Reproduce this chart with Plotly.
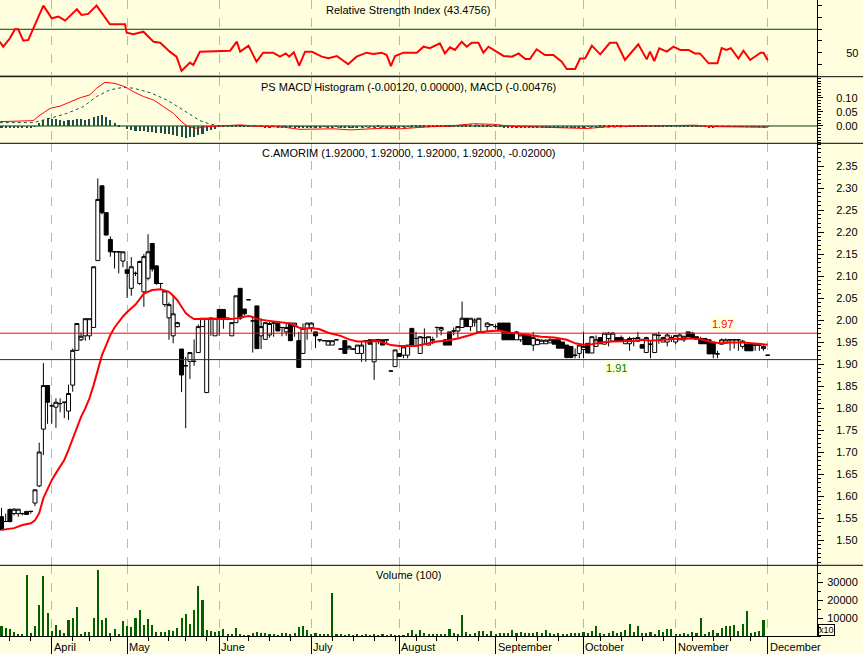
import plotly.graph_objects as go
from plotly.subplots import make_subplots

FONT = "Liberation Sans, Arial, sans-serif"
BG = "#FFFFE0"

# ---------------- data (trading-day index 0..183) ----------------
month_names = ["April", "May", "June", "July", "August", "September", "October", "November", "December"]
month_idx = [12, 30, 52, 74, 95, 118, 139, 161, 183]
week_idx = [2, 7, 17, 21, 26, 35, 40, 44, 49, 54, 59, 64, 69, 79, 84, 89, 94, 99, 104, 109,
            114, 123, 128, 133, 143, 148, 153, 158, 165, 170, 174, 179]

open_ = [
    1.553, 1.542, 1.569, 1.560, 1.560, 1.560, 1.565, 1.565, 1.584, 1.623,
    1.752, 1.851, 1.805, 1.802, 1.810, 1.813, 1.793, 1.852, 1.931, 1.955,
    1.964, 1.964, 1.983, 2.135, 2.305, 2.244, 2.183, 2.155, 2.155, 2.134,
    2.114, 2.072, 2.106, 2.083, 2.064, 2.095, 2.174, 2.123, 2.083, 2.035,
    2.005, 1.964, 1.985, 1.934, 1.896, 1.906, 1.906, 1.926, 1.985, 1.835,
    2.004, 1.964, 2.024, 2.024, 2.004, 1.964, 1.994, 2.072, 2.025, 2.046,
    1.998, 2.032, 1.964, 1.956, 1.966, 1.993, 1.993, 1.983, 1.973, 1.993,
    1.985, 1.953, 1.924, 1.981, 1.983, 1.973, 1.955, 1.953, 1.943, 1.943,
    1.955, 1.934, 1.953, 1.934, 1.934, 1.924, 1.924, 1.953, 1.955, 1.905,
    1.955, 1.955, 1.955, 1.884, 1.894, 1.924, 1.920, 1.920, 1.981, 1.958,
    1.924, 1.960, 1.943, 1.955, 1.983, 1.977, 1.955, 1.973, 1.975, 1.975,
    1.983, 2.004, 1.985, 1.995, 1.973, 1.973, 1.985, 1.989, 1.985, 1.993,
    1.993, 1.993, 1.970, 1.955, 1.955, 1.966, 1.964, 1.943, 1.944, 1.946,
    1.946, 1.948, 1.955, 1.955, 1.950, 1.943, 1.940, 1.920, 1.924, 1.933,
    1.947, 1.925, 1.940, 1.960, 1.945, 1.958, 1.952, 1.960, 1.960, 1.946,
    1.946, 1.958, 1.952, 1.944, 1.926, 1.945, 1.926, 1.965, 1.950, 1.950,
    1.960, 1.950, 1.955, 1.955, 1.973, 1.970, 1.962, 1.958, 1.958, 1.955,
    1.950, 1.923, 1.945, 1.948, 1.955, 1.955, 1.955, 1.940, 1.945, 1.945,
    1.943, 1.943, 1.935, 1.920]

high = [
    1.573, 1.560, 1.572, 1.572, 1.570, 1.562, 1.565, 1.565, 1.615, 1.721,
    1.902, 1.851, 1.810, 1.822, 1.822, 1.813, 1.853, 1.935, 1.992, 1.972,
    2.003, 2.003, 2.121, 2.322, 2.305, 2.244, 2.190, 2.155, 2.155, 2.155,
    2.134, 2.143, 2.110, 2.135, 2.150, 2.195, 2.174, 2.125, 2.083, 2.066,
    2.040, 2.055, 1.996, 1.934, 1.916, 1.926, 1.956, 1.990, 2.004, 2.004,
    2.004, 2.004, 2.024, 2.024, 2.004, 1.994, 2.055, 2.072, 2.025, 2.046,
    2.005, 2.032, 2.004, 1.996, 1.996, 1.996, 1.993, 1.983, 1.993, 1.993,
    1.993, 1.973, 1.992, 1.993, 1.995, 1.973, 1.955, 1.953, 1.953, 1.953,
    1.955, 1.934, 1.955, 1.943, 1.934, 1.943, 1.953, 1.953, 1.955, 1.955,
    1.955, 1.955, 1.955, 1.884, 1.932, 1.924, 1.943, 1.943, 1.981, 1.973,
    1.962, 1.981, 1.962, 1.962, 1.985, 1.985, 1.955, 1.973, 1.983, 1.985,
    2.042, 2.004, 2.004, 2.004, 2.004, 1.973, 1.995, 1.989, 1.990, 1.993,
    1.993, 1.993, 1.973, 1.975, 1.966, 1.966, 1.964, 1.973, 1.958, 1.956,
    1.956, 1.960, 1.955, 1.955, 1.950, 1.943, 1.940, 1.935, 1.943, 1.973,
    1.947, 1.962, 1.965, 1.960, 1.970, 1.973, 1.973, 1.960, 1.965, 1.955,
    1.962, 1.960, 1.973, 1.944, 1.962, 1.952, 1.968, 1.973, 1.962, 1.970,
    1.965, 1.966, 1.970, 1.965, 1.973, 1.973, 1.962, 1.962, 1.958, 1.955,
    1.950, 1.930, 1.958, 1.958, 1.955, 1.955, 1.955, 1.955, 1.945, 1.945,
    1.943, 1.943, 1.943, 1.920]

low = [
    1.523, 1.542, 1.540, 1.556, 1.553, 1.556, 1.558, 1.560, 1.577, 1.620,
    1.693, 1.764, 1.764, 1.755, 1.790, 1.777, 1.773, 1.837, 1.930, 1.952,
    1.953, 1.955, 1.983, 2.135, 2.240, 2.193, 2.144, 2.117, 2.106, 2.120,
    2.050, 2.055, 2.100, 2.080, 2.030, 2.090, 2.110, 2.080, 2.070, 2.030,
    1.955, 1.947, 1.983, 1.836, 1.754, 1.866, 1.896, 1.926, 1.985, 1.835,
    1.964, 1.964, 1.964, 1.980, 2.004, 1.964, 1.994, 2.000, 2.010, 2.046,
    1.926, 1.935, 1.934, 1.956, 1.960, 1.962, 1.975, 1.963, 1.964, 1.953,
    1.962, 1.892, 1.924, 1.955, 1.973, 1.936, 1.950, 1.953, 1.943, 1.943,
    1.955, 1.934, 1.924, 1.934, 1.934, 1.924, 1.905, 1.905, 1.945, 1.864,
    1.945, 1.943, 1.945, 1.884, 1.894, 1.917, 1.913, 1.913, 1.943, 1.943,
    1.924, 1.943, 1.943, 1.945, 1.960, 1.965, 1.943, 1.943, 1.965, 1.960,
    1.983, 1.985, 1.975, 1.985, 1.973, 1.973, 1.975, 1.989, 1.980, 1.977,
    1.955, 1.955, 1.955, 1.955, 1.950, 1.944, 1.944, 1.930, 1.944, 1.946,
    1.946, 1.948, 1.945, 1.936, 1.936, 1.913, 1.913, 1.913, 1.913, 1.913,
    1.925, 1.925, 1.940, 1.946, 1.945, 1.940, 1.950, 1.952, 1.952, 1.946,
    1.930, 1.940, 1.950, 1.936, 1.926, 1.913, 1.926, 1.946, 1.950, 1.940,
    1.950, 1.945, 1.955, 1.950, 1.962, 1.960, 1.956, 1.946, 1.946, 1.923,
    1.913, 1.913, 1.945, 1.948, 1.930, 1.935, 1.930, 1.935, 1.930, 1.930,
    1.930, 1.930, 1.930, 1.920]

close = [
    1.523, 1.542, 1.542, 1.570, 1.570, 1.560, 1.558, 1.565, 1.614, 1.700,
    1.851, 1.813, 1.805, 1.813, 1.810, 1.813, 1.833, 1.931, 1.992, 1.963,
    2.003, 2.003, 2.121, 2.274, 2.244, 2.193, 2.155, 2.155, 2.155, 2.155,
    2.106, 2.121, 2.106, 2.133, 2.144, 2.155, 2.116, 2.083, 2.083, 2.066,
    2.035, 2.014, 1.994, 1.875, 1.896, 1.926, 1.906, 1.985, 2.004, 2.004,
    2.004, 2.004, 2.004, 2.004, 2.004, 1.994, 2.055, 2.004, 2.014, 2.046,
    1.998, 1.935, 1.985, 1.994, 1.992, 1.993, 1.975, 1.983, 1.983, 1.953,
    1.993, 1.892, 1.981, 1.993, 1.993, 1.964, 1.955, 1.953, 1.953, 1.953,
    1.955, 1.934, 1.924, 1.940, 1.934, 1.943, 1.943, 1.953, 1.945, 1.955,
    1.955, 1.943, 1.955, 1.884, 1.932, 1.917, 1.939, 1.943, 1.943, 1.958,
    1.962, 1.960, 1.962, 1.955, 1.983, 1.983, 1.943, 1.943, 1.975, 1.985,
    2.004, 1.985, 2.004, 2.000, 2.004, 1.973, 1.993, 1.989, 1.985, 1.977,
    1.955, 1.955, 1.955, 1.973, 1.966, 1.944, 1.944, 1.960, 1.956, 1.954,
    1.954, 1.955, 1.945, 1.936, 1.936, 1.915, 1.915, 1.920, 1.943, 1.940,
    1.925, 1.962, 1.955, 1.946, 1.970, 1.970, 1.970, 1.952, 1.952, 1.955,
    1.958, 1.958, 1.960, 1.936, 1.960, 1.945, 1.968, 1.965, 1.960, 1.966,
    1.960, 1.965, 1.966, 1.962, 1.962, 1.960, 1.956, 1.946, 1.946, 1.923,
    1.923, 1.923, 1.955, 1.955, 1.955, 1.955, 1.955, 1.952, 1.930, 1.930,
    1.943, 1.943, 1.940, 1.920]

volume = [
    5200, 4300, 3600, 1800, 800, 800, 34000, 1300, 5400, 16900,
    32900, 12400, 2500, 6200, 3000, 1300, 8700, 10000, 16200, 1100,
    1900, 2300, 10000, 36400, 8700, 9600, 1300, 3600, 600, 8000,
    5200, 4600, 10000, 14500, 6200, 9200, 6000, 2300, 1900, 2100,
    3000, 2500, 4300, 10000, 11800, 6700, 14500, 27500, 20100, 3400,
    2500, 2100, 2500, 3600, 600, 600, 4300, 600, 200, 200,
    1300, 1900, 1700, 1300, 1100, 600, 200, 1300, 1300, 900,
    1300, 4600, 5300, 3000, 600, 1700, 600, 600, 600, 23600,
    500, 400, 300, 400, 300, 400, 300, 400, 300, 400,
    300, 400, 300, 400, 300, 300, 200, 1300, 3000, 600,
    3000, 1300, 600, 400, 800, 400, 800, 3600, 1300, 600,
    11300, 2100, 900, 1300, 2500, 2500, 900, 2500, 600, 1300,
    1300, 1700, 3000, 1300, 1900, 1300, 1300, 1700, 1900, 1300,
    3000, 1300, 900, 1300, 600, 900, 1300, 1300, 1700, 2100,
    1300, 2500, 5300, 1300, 900, 1700, 2500, 1300, 2100, 3200,
    6700, 1900, 5200, 1300, 1300, 1900, 900, 3000, 2300, 3600,
    3600, 600, 600, 1300, 600, 1900, 1300, 10000, 600, 1900,
    3000, 1300, 4300, 5500, 5500, 5900, 2800, 6700, 13600, 1700,
    2100, 2500, 9000, 0]

ma_x = [0, 3, 5, 7, 8, 9, 10, 11, 12, 13, 14, 15, 16, 17, 18, 19, 20, 21, 22, 23, 24, 25, 26, 27, 28, 29,
        30, 32, 34, 36, 38, 40, 41, 42, 43, 44, 45, 46, 55, 57, 59, 60, 61, 64, 66, 69, 71, 72, 74, 76,
        78, 81, 83, 85, 88, 90, 92, 93, 95, 99, 102, 104, 106, 109, 112, 114, 117, 119, 121, 123, 126,
        129, 132, 135, 137, 139, 141, 143, 146, 148, 151, 153, 155, 158, 160, 163, 165, 167, 170, 172,
        174, 177, 179, 181, 183]
ma_v = [1.523, 1.527, 1.534, 1.538, 1.545, 1.561, 1.595, 1.617, 1.636, 1.652, 1.667, 1.682, 1.705, 1.731,
        1.754, 1.780, 1.799, 1.822, 1.852, 1.886, 1.920, 1.943, 1.966, 1.983, 1.996, 2.008,
        2.018, 2.035, 2.060, 2.068, 2.070, 2.064, 2.055, 2.045, 2.030, 2.016, 2.008, 2.002, 2.002, 2.005,
        2.009, 2.007, 2.002, 1.998, 1.996, 1.992, 1.983, 1.980, 1.982, 1.979,
        1.971, 1.964, 1.956, 1.951, 1.951, 1.952, 1.946, 1.943, 1.941, 1.941, 1.947, 1.951, 1.953, 1.958,
        1.966, 1.972, 1.975, 1.976, 1.971, 1.970, 1.966,
        1.962, 1.960, 1.955, 1.947, 1.944, 1.945, 1.949, 1.951, 1.952, 1.952, 1.955, 1.953, 1.955, 1.957,
        1.958, 1.958, 1.956, 1.949, 1.947,
        1.949, 1.949, 1.947, 1.945, 1.944]

# RSI curve
rsi_x = [-0.4, 0.4, 2, 3.2, 4, 5.2, 6.4, 7.6, 10, 12, 13.6, 15.2, 16.8, 18, 19.1, 20.7, 22.7, 24.3, 25.9,
         29.5, 29.9, 31.5, 33.9, 36.3, 37.9, 40.2, 41.8, 43, 45, 45.8, 47.4, 54.6, 56.2, 57, 59, 60.9,
         62.5, 64.9, 66.5, 67.9, 68.7, 69.8, 71.1, 72.5, 74.1, 76.5, 78.1, 80.1, 82.8, 84.8, 87.2, 88.8,
         90.8, 92, 93, 94, 96, 99.2, 100.8, 102.3, 104.7, 105.9, 107.1, 108.3, 109.9, 111.1, 112.3,
         113.9, 115.1, 116.3, 117.9, 119.9, 121.9, 123.5, 125.1, 126.2, 127.8, 129.8, 131.8, 133.8, 135,
         137, 138.2, 139.4, 141, 143, 145.3, 146.9, 148.9, 150.5, 152.1, 154.1, 154.9, 155.9, 157.1,
         158.9, 160.5, 162.1, 164.1, 165.6, 166.8, 168.9, 171, 172, 173.1, 174.2, 176, 177.2, 178.8,
         181.3, 182, 183]
rsi_v = [59.4, 55.1, 62.3, 70, 70, 60.3, 60.9, 70.8, 90.2, 79.4, 80.8, 77.4, 83.1, 87.1, 82.2, 83.1, 90.2,
         82.2, 74.3, 74.3, 67.1, 65.7, 67.9, 59.4, 58.5, 50.9, 46.6, 34.4, 41.5, 39.5, 50.9, 51.7, 59.4,
         50.9, 56, 42.3, 50, 50, 46.6, 49.4, 46.6, 50.4, 38.9, 50.9, 50.9, 46.6, 45.2, 47.2, 40.1, 46.6,
         50, 48.9, 50, 48, 38.6, 47.2, 50, 50, 55.1, 53.8, 58, 49.4, 54.6, 52.4, 59.4, 55.1, 58.5, 58.5,
         50, 55.1, 51.7, 47.2, 46.6, 49.4, 44.6, 44.6, 52.9, 48, 48, 42.3, 36.1, 36.1, 45, 45.2, 56,
         48.6, 58.5, 58.5, 43.8, 50.9, 57.2, 44.3, 50.9, 42.9, 53.8, 50.9, 55.1, 52.4, 52.4, 49.4, 49.4,
         40.9, 40.9, 54, 52.4, 53.8, 45, 51.7, 43.8, 50, 50, 43.5]
rsi_levels = [70, 30]

# MACD line, signal line and histogram
macd_x = [-0.4, 7.6, 9.2, 11.6, 14, 16.4, 18.8, 21.1, 22.7, 24.7, 27.1, 29.5, 31.5, 33.9, 36.3, 38.7, 41.1,
          43, 44.6, 46.6, 49, 52.2, 55.4, 57, 60.2, 63.4, 67.3, 71.3, 75.3, 79.3, 83.2, 87.2, 91.2, 95.2,
          99.2, 102.3, 107, 112.7, 117.5, 122.3, 126.2, 134.2, 139.8, 145.3, 151.7, 158.1, 166, 168.4,
          174, 183]
macd_v = [0.0155, 0.019, 0.039, 0.063, 0.071, 0.087, 0.101, 0.111, 0.135, 0.156, 0.152, 0.140, 0.1225,
          0.105, 0.093, 0.069, 0.045, 0.015, -0.0025, -0.008, -0.0025, 0.0, 0.002, 0.004, 0.0, -0.002,
          -0.004, -0.012, -0.012, -0.010, -0.014, -0.012, -0.008, -0.010, -0.005, -0.0025, 0.0, 0.008,
          0.006, -0.002, -0.003, -0.008, -0.009, -0.002, 0.0, 0.003, 0.003, -0.002, -0.003, -0.00476]
sig_x = [-0.4, 7.6, 11.6, 15.6, 19.5, 22.7, 25.9, 29.1, 31.5, 35.5, 39.5, 43.4, 47.4, 49.8, 52.2, 55.4,
         59.4, 63.4, 71.3, 79.3, 87.2, 95.2, 102.3, 112.7, 122.3, 134.2, 145.3, 158.1, 170, 183]
sig_v = [0.012, 0.012, 0.0274, 0.045, 0.069, 0.105, 0.129, 0.138, 0.135, 0.119, 0.093, 0.057, 0.019, 0.007,
         0.0, 0.002, 0.001, -0.002, -0.004, -0.006, -0.006, -0.005, -0.003, 0.004, 0.001, -0.005, -0.004,
         0.001, 0.0, -0.0036]
hist = [
    -0.003, -0.003, -0.003, -0.003, -0.003, -0.003, -0.003, -0.003, -0.002,
    0.012, 0.024, 0.031, 0.027, 0.025, 0.024, 0.019, 0.021, 0.024, 0.027, 0.027,
    0.024, 0.027, 0.033, 0.036, 0.039, 0.033, 0.024, 0.012, 0.004, 0.000,
    -0.008, -0.014, -0.017, -0.018, -0.018, -0.020, -0.021, -0.024, -0.024, -0.026, -0.029,
    -0.032, -0.036, -0.040, -0.042, -0.040, -0.038, -0.032, -0.026, -0.017, -0.012, -0.008,
    0.003, 0.004, 0.003, 0.002, 0.003, 0.004, 0.002, 0.001, -0.001, -0.002, -0.002, -0.003,
    -0.003, -0.002, -0.003, -0.004, -0.003, -0.004, -0.005, -0.006, -0.005, -0.004, -0.004, -0.003,
    -0.003, -0.002, -0.003, -0.003, -0.002, -0.003, -0.004, -0.004, -0.003, -0.002, -0.002, -0.001,
    -0.001, 0.001, 0.002, 0.001, -0.002, -0.004, -0.003, -0.002, -0.001, 0.001, 0.002, 0.002,
    0.003, 0.003, 0.002, 0.003, 0.004, 0.003, 0.003, 0.004, 0.005, 0.004, 0.005, 0.004,
    0.004, 0.003, 0.003, 0.002, 0.002, 0.001, -0.001, -0.002, -0.003, -0.003, -0.004, -0.003,
    -0.003, -0.004, -0.004, -0.003, -0.003, -0.004, -0.004, -0.004, -0.005, -0.005, -0.006, -0.006,
    -0.005, -0.005, -0.004, -0.003, -0.002, -0.001, 0.001, 0.002, 0.002, 0.003, 0.003, 0.002,
    0.002, 0.001, 0.002, 0.002, 0.003, 0.002, 0.002, 0.001, 0.002, 0.002, 0.003, 0.003,
    0.002, 0.002, 0.003, 0.002, 0.002, 0.002, 0.001, -0.001, -0.002, -0.003, -0.003, -0.002,
    -0.001, -0.001, -0.001, -0.002, -0.001, -0.002, -0.002, -0.002, -0.001, -0.001, -0.001, -0.0012]

price_levels = [1.97, 1.91]
price_level_colors = ["#FF0000", "#004040"]
price_level_text_colors = ["#FF0000", "#008000"]

rsi_ticks = [40, 50, 60, 70, 80, 90]
rsi_ticktext = ["", "50", "", "", "", ""]
macd_ticks = [0.0, 0.05, 0.10]
macd_ticktext = ["0.00", "0.05", "0.10"]
price_ticks = [1.50, 1.55, 1.60, 1.65, 1.70, 1.75, 1.80, 1.85, 1.90, 1.95,
               2.00, 2.05, 2.10, 2.15, 2.20, 2.25, 2.30, 2.35]
vol_ticks = [10000, 20000, 30000]
vol_ticktext = ["10000", "20000", "30000"]

titles = ["Relative Strength Index (43.4756)",
          "PS MACD Histogram (-0.00120, 0.00000), MACD (-0.00476)",
          "C.AMORIM (1.92000, 1.92000, 1.92000, 1.92000, -0.02000)",
          "Volume (100)"]

assert len(open_) == len(high) == len(low) == len(close) == len(volume) == len(hist) == 184

idx = list(range(len(close)))

# ---------------- figure ----------------
fig = make_subplots(rows=4, cols=1, shared_xaxes=True, vertical_spacing=0)

fig.add_trace(go.Scatter(x=rsi_x, y=rsi_v, mode="lines", line=dict(color="#FF0000", width=2),
                         hoverinfo="skip"), row=1, col=1)

fig.add_trace(go.Bar(x=idx, y=hist, width=0.5, marker=dict(color="#1E4D4D", line=dict(width=0)),
                     hoverinfo="skip"), row=2, col=1)
fig.add_trace(go.Scatter(x=sig_x, y=sig_v, mode="lines",
                         line=dict(color="#1E4D4D", width=1, dash="3px,3px"), hoverinfo="skip"), row=2, col=1)
fig.add_trace(go.Scatter(x=macd_x, y=macd_v, mode="lines", line=dict(color="#FF0000", width=1),
                         hoverinfo="skip"), row=2, col=1)

fig.add_trace(go.Candlestick(x=idx, open=open_, high=high, low=low, close=close,
                             increasing=dict(line=dict(color="black", width=1), fillcolor="white"),
                             decreasing=dict(line=dict(color="black", width=1), fillcolor="black"),
                             whiskerwidth=0, hoverinfo="skip"), row=3, col=1)
fig.add_trace(go.Scatter(x=ma_x, y=ma_v, mode="lines", line=dict(color="#FF0000", width=2),
                         hoverinfo="skip"), row=3, col=1)

fig.add_trace(go.Bar(x=idx, y=volume, width=0.5, marker=dict(color="#006000", line=dict(width=0)),
                     hoverinfo="skip"), row=4, col=1)

H = 636.0
def frac(px):
    return 1 - px / H

d_rsi = [frac(76.7), 1.0]
d_macd = [frac(143.3), frac(76.7)]
d_price = [frac(565.3), frac(143.3)]
d_vol = [0.0, frac(565.3)]

xr = [-0.36, 194.77]
axis_font = dict(family=FONT, size=11, color="black")

for r in range(1, 5):
    fig.update_xaxes(range=xr, tickmode="array", tickvals=month_idx, showgrid=True,
                     gridcolor="#B8B8B8", griddash="dash", gridwidth=1, zeroline=False,
                     showticklabels=False, ticks="", rangeslider=dict(visible=False),
                     fixedrange=True, row=r, col=1)
fig.update_xaxes(ticks="outside", ticklen=18, tickcolor="black", tickwidth=1,
                 showline=True, linecolor="black", linewidth=1,
                 minor=dict(tickmode="array", tickvals=week_idx, ticks="outside", ticklen=4,
                            tickcolor="black", showgrid=False),
                 row=4, col=1)

common_y = dict(side="right", showgrid=False, zeroline=False, showline=True, linecolor="black",
                linewidth=1, ticks="outside", tickcolor="black", tickfont=axis_font, fixedrange=True)

fig.update_layout(
    yaxis=dict(domain=d_rsi, range=[29.5, 95.0], tickmode="array", tickvals=rsi_ticks,
               ticktext=rsi_ticktext, ticklen=4, ticklabelstandoff=22, **common_y),
    yaxis2=dict(domain=d_macd, range=[-0.0618, 0.176], tickmode="array", tickvals=macd_ticks,
                ticktext=macd_ticktext, ticklen=5, ticklabelstandoff=11,
                minor=dict(dtick=0.01, ticks="outside", ticklen=3, tickcolor="black"), **common_y),
    yaxis3=dict(domain=d_price, range=[1.4425, 2.4016], tickmode="array", tickvals=price_ticks,
                tickformat=".2f", ticklen=6, ticklabelstandoff=10,
                minor=dict(dtick=0.01, ticks="outside", ticklen=3, tickcolor="black"), **common_y),
    yaxis4=dict(domain=d_vol, range=[0, 39278], tickmode="array", tickvals=vol_ticks,
                ticktext=vol_ticktext, ticklen=5, ticklabelstandoff=2,
                minor=dict(dtick=5000, ticks="outside", ticklen=3, tickcolor="black"), **common_y),
)

shapes = []
# white background of the price panel
shapes.append(dict(type="rect", xref="x3 domain", yref="y3 domain", x0=0, x1=1, y0=0, y1=1,
                   fillcolor="white", line=dict(width=0), layer="below"))
# RSI levels
for lv in rsi_levels:
    shapes.append(dict(type="line", xref="x domain", yref="y", x0=0, x1=1, y0=lv, y1=lv,
                       line=dict(color="#004000", width=1), layer="below"))
# MACD zero line
shapes.append(dict(type="line", xref="x2 domain", yref="y2", x0=0, x1=1, y0=0, y1=0,
                   line=dict(color="#004000", width=1), layer="below"))
# price reference levels
for lv, col in zip(price_levels, price_level_colors):
    shapes.append(dict(type="line", xref="x3 domain", yref="y3", x0=0, x1=1, y0=lv, y1=lv,
                       line=dict(color=col, width=1), layer="above"))
# panel separators
for yb in [d_rsi[0], d_macd[0], d_price[0]]:
    shapes.append(dict(type="line", xref="paper", yref="paper", x0=0, x1=863 / 817.0, y0=yb, y1=yb,
                       line=dict(color="black", width=1), layer="above"))

annotations = []
for title, dom in zip(titles, [d_rsi, d_macd, d_price, d_vol]):
    annotations.append(dict(text=title, xref="paper", yref="paper", x=0.5, y=dom[1],
                            xanchor="center", yanchor="top", yshift=-2, showarrow=False,
                            font=dict(family=FONT, size=11, color="black")))
for mi, name in zip(month_idx, month_names):
    annotations.append(dict(text=name, xref="x4", yref="paper", x=mi, y=0, xanchor="left",
                            yanchor="top", yshift=-3, showarrow=False,
                            font=dict(family=FONT, size=11, color="black")))
annotations.append(dict(text="1.97", xref="x3", yref="y3", x=172.3, y=price_levels[0],
                        xanchor="center", yanchor="bottom", yshift=1, showarrow=False,
                        bgcolor=BG, borderpad=1,
                        font=dict(family=FONT, size=11, color=price_level_text_colors[0])))
annotations.append(dict(text="1.91", xref="x3", yref="y3", x=147.0, y=price_levels[1],
                        xanchor="center", yanchor="top", yshift=0, showarrow=False,
                        bgcolor=BG, borderpad=1,
                        font=dict(family=FONT, size=11, color=price_level_text_colors[1])))
annotations.append(dict(text="x10", xref="paper", yref="paper", x=818 / 817.0, y=0,
                        xanchor="left", yanchor="bottom", showarrow=False, bordercolor="black",
                        borderwidth=1, borderpad=0, font=dict(family=FONT, size=9, color="black")))

fig.update_layout(
    width=863, height=654,
    margin=dict(l=0, r=46, t=0, b=18),
    paper_bgcolor=BG, plot_bgcolor=BG,
    showlegend=False, bargap=0, boxgap=0.05, boxgroupgap=0,
    font=dict(family=FONT, size=11, color="black"),
    shapes=shapes, annotations=annotations,
    hovermode=False,
)

fig.write_html("out.html", config={"displayModeBar": False},
               post_script="document.body.style.margin='0';document.body.style.overflow='hidden';")
